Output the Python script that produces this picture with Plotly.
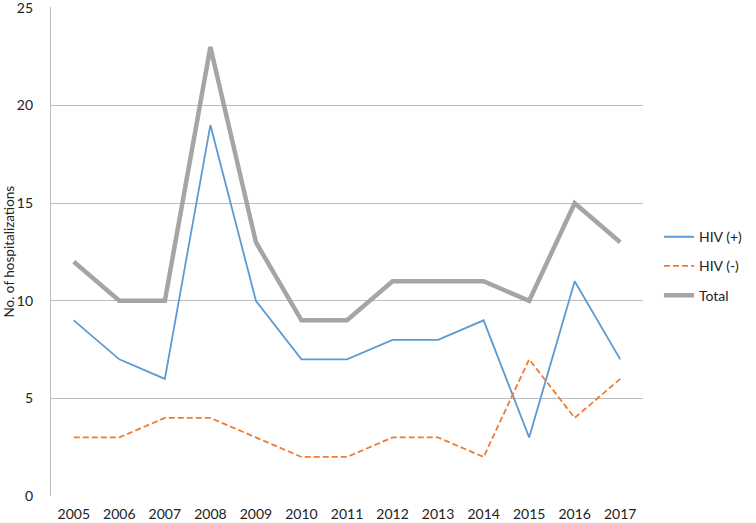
import plotly.graph_objects as go

years = ["2005", "2006", "2007", "2008", "2009", "2010", "2011", "2012", "2013", "2014", "2015", "2016", "2017"]
hiv_pos = [9, 7, 6, 19, 10, 7, 7, 8, 8, 9, 3, 11, 7]
hiv_neg = [3, 3, 4, 4, 3, 2, 2, 3, 3, 2, 7, 4, 6]
total = [12, 10, 10, 23, 13, 9, 9, 11, 11, 11, 10, 15, 13]
y_max = 25
y_step = 5
y_title = "No. of hospitalizations"

FONT = "Lato, 'Open Sans', sans-serif"

fig = go.Figure()
fig.add_trace(go.Scatter(x=years, y=hiv_pos, name="HIV (+)", mode="lines", legendgroup="a",
                         line=dict(color="#5B9BD5", width=1.8)))
fig.add_trace(go.Scatter(x=years, y=hiv_neg, name="HIV (-)", mode="lines", legendgroup="b",
                         line=dict(color="#ED7D31", width=1.8, dash="6px,3px")))
fig.add_trace(go.Scatter(x=years, y=total, name="Total", mode="lines", legendgroup="c",
                         line=dict(color="#A5A5A5", width=4.5)))

fig.update_layout(
    width=756, height=523,
    margin=dict(l=51, r=113, t=7, b=27),
    paper_bgcolor="white", plot_bgcolor="white",
    font=dict(family=FONT, size=14, color="#222222"),
    showlegend=True,
    legend=dict(x=1.027, xanchor="left", y=0.47, yanchor="middle",
                font=dict(size=14, color="#222222"), tracegroupgap=8,
                bgcolor="rgba(0,0,0,0)"),
    xaxis=dict(type="category", range=[-0.5, 12.5], showgrid=False, zeroline=False,
               showline=False, ticks="", ticklabelstandoff=8, automargin=False,
               ticklabeloverflow="allow", tickfont=dict(size=14)),
    yaxis=dict(range=[0, y_max + 0.05], tickmode="linear", tick0=0, dtick=y_step,
               showgrid=True, gridcolor="#BDBDBD",
               gridwidth=1.3, zeroline=False, showline=True, linecolor="#BDBDBD",
               linewidth=1.3, ticks="", ticklabelstandoff=14, automargin=False,
               ticklabeloverflow="allow", tickfont=dict(size=14)),
    annotations=[dict(text=y_title, xref="paper", yref="paper", x=-0.0726, y=0.5,
                      xanchor="center", yanchor="middle", textangle=-90, showarrow=False,
                      font=dict(size=13.5, color="#222222"))],
)

fig.write_html("out.html", config={"displayModeBar": False},
               post_script="document.body.style.margin='0';document.body.style.overflow='hidden';")
